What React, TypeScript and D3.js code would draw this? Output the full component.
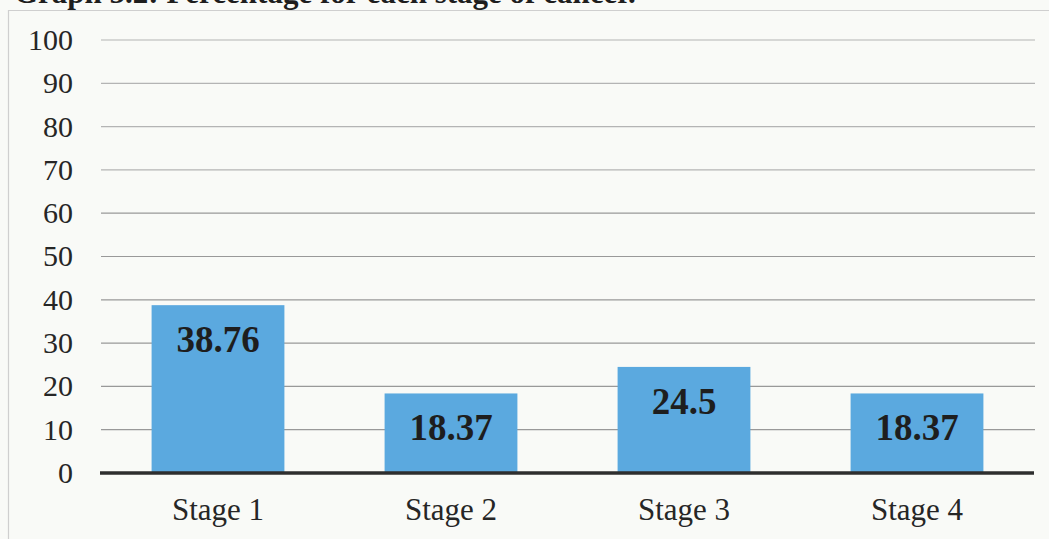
import React from "react";
import * as d3 from "d3";

// Percentage of patients at each stage of cancer
const stages: string[] = ["Stage 1", "Stage 2", "Stage 3", "Stage 4"];
const percentages: number[] = [38.76, 18.37, 24.5, 18.37];
const yTicks: number[] = [0, 10, 20, 30, 40, 50, 60, 70, 80, 90, 100];
const title = "Graph 5.2: Percentage for each stage of cancer.";

const W = 1049;
const H = 539;
const serif = "'Liberation Serif', 'Times New Roman', serif";

export default function App() {
  const x = d3
    .scaleBand<string>()
    .domain(stages)
    .range([101.5, 1033.5])
    .paddingInner(0.43)
    .paddingOuter(0.215);
  const y = d3.scaleLinear().domain([0, 100]).range([473, 40]);

  const gridLeft = 101;
  const gridRight = 1035;

  return (
    <svg
      width={W}
      height={H}
      viewBox={`0 0 ${W} ${H}`}
      style={{ position: "absolute", left: 0, top: 0, background: "#f9faf7" }}
    >
      <rect x={0} y={0} width={W} height={H} fill="#f9faf7" />

      {/* caption above the chart box, running off the top of the page */}
      <text
        x={14}
        y={3}
        fontFamily={serif}
        fontWeight="bold"
        fontSize={31}
        fill="#1e1e1e"
      >
        {title}
      </text>

      {/* frame around the chart */}
      <line x1={8} x2={W} y1={10.5} y2={10.5} stroke="#cfcfcf" strokeWidth={1.2} />
      <line x1={8.5} x2={8.5} y1={10} y2={H} stroke="#cfcfcf" strokeWidth={1.2} />

      {/* horizontal gridlines */}
      {yTicks
        .filter((t) => t !== 0)
        .map((t) => (
          <line
            key={`g${t}`}
            x1={gridLeft}
            x2={gridRight}
            y1={y(t)}
            y2={y(t)}
            stroke={t >= 70 ? "#b4b4b4" : "#999999"}
            strokeWidth={1.2}
          />
        ))}

      {/* y tick labels */}
      {yTicks.map((t) => (
        <text
          key={`t${t}`}
          x={73}
          y={y(t)}
          dy="0.33em"
          textAnchor="end"
          fontFamily={serif}
          fontSize={30}
          fill="#262626"
        >
          {t}
        </text>
      ))}

      {/* bars */}
      {stages.map((s, i) => (
        <rect
          key={`b${s}`}
          x={x(s)}
          y={y(percentages[i])}
          width={x.bandwidth()}
          height={y(0) - y(percentages[i])}
          fill="#5ba9df"
        />
      ))}

      {/* baseline */}
      <line
        x1={gridLeft - 1}
        x2={gridRight - 1}
        y1={y(0)}
        y2={y(0)}
        stroke="#2e2e2e"
        strokeWidth={3.5}
      />

      {/* value labels inside bars */}
      {stages.map((s, i) => (
        <text
          key={`v${s}`}
          x={(x(s) as number) + x.bandwidth() / 2}
          y={y(percentages[i]) + 47}
          textAnchor="middle"
          fontFamily={serif}
          fontWeight="bold"
          fontSize={37}
          fill="#1e1e1e"
        >
          {percentages[i]}
        </text>
      ))}

      {/* category labels */}
      {stages.map((s) => (
        <text
          key={`c${s}`}
          x={(x(s) as number) + x.bandwidth() / 2}
          y={520}
          textAnchor="middle"
          fontFamily={serif}
          fontSize={31}
          fill="#262626"
        >
          {s}
        </text>
      ))}
    </svg>
  );
}
